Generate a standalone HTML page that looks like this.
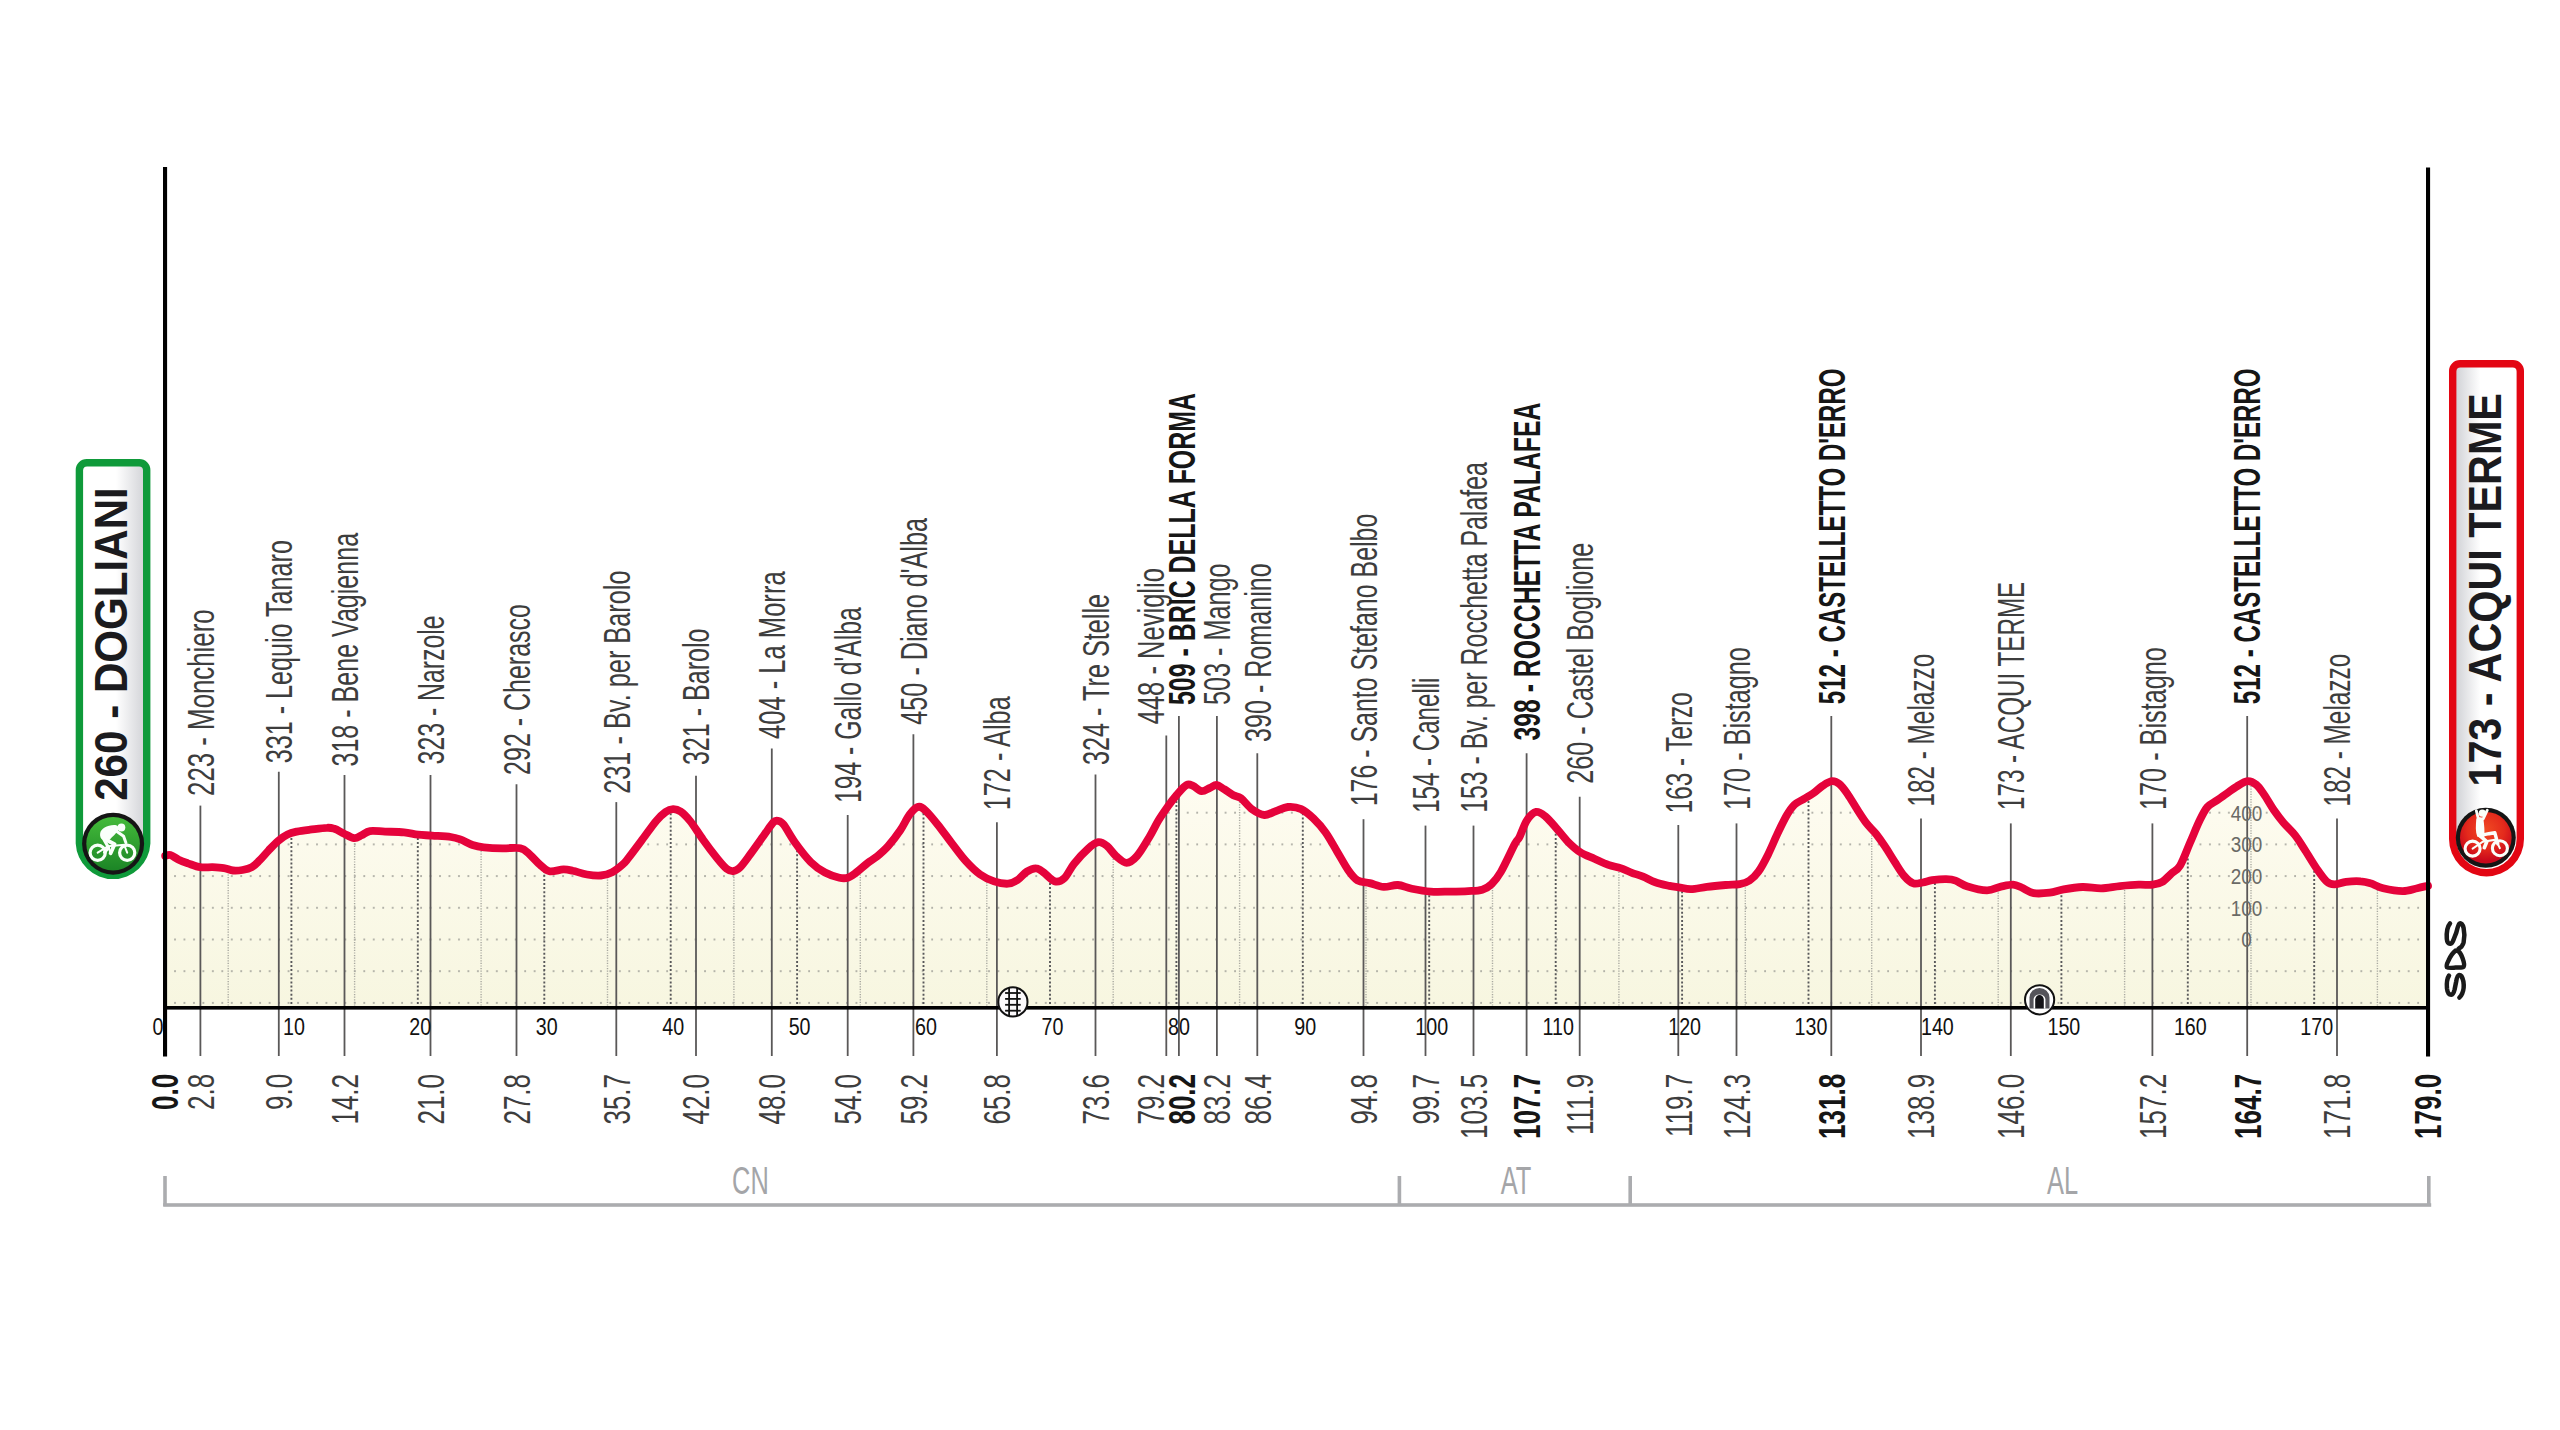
<!DOCTYPE html><html><head><meta charset="utf-8"><style>html,body{margin:0;padding:0;background:#fff;width:2560px;height:1430px;overflow:hidden}svg{display:block}text{font-family:"Liberation Sans",sans-serif}</style></head><body>
<svg width="2560" height="1430" viewBox="0 0 2560 1430">
<defs>
<linearGradient id="fillg" x1="0" y1="780" x2="0" y2="1007" gradientUnits="userSpaceOnUse"><stop offset="0" stop-color="#fefcf1"/><stop offset="1" stop-color="#f7f6e0"/></linearGradient>
<clipPath id="fc"><path d="M165.2,855.9 C166.0,855.8 168.1,854.4 170.3,855.0 C172.6,855.6 175.7,858.3 178.7,859.7 C181.7,861.1 184.5,862.1 188.1,863.4 C191.7,864.6 196.2,866.6 200.3,867.2 C204.4,867.8 208.6,867.1 212.5,867.2 C216.4,867.4 220.3,867.6 223.7,868.1 C227.1,868.6 230.0,870.2 233.1,870.5 C236.2,870.8 239.4,870.5 242.5,870.0 C245.6,869.5 249.1,868.8 251.9,867.2 C254.7,865.6 256.6,863.4 259.4,860.6 C262.2,857.8 265.6,853.6 268.7,850.3 C271.8,847.0 275.0,843.5 278.1,840.9 C281.2,838.2 284.4,835.9 287.5,834.4 C290.6,832.9 293.1,832.4 296.9,831.6 C300.6,830.8 305.0,830.3 310.0,829.7 C315.0,829.1 322.8,827.9 326.9,827.8 C331.0,827.6 331.6,827.9 334.4,828.8 C337.2,829.7 340.4,831.8 343.7,833.4 C347.0,835.0 351.1,837.8 354.1,838.1 C357.1,838.4 359.0,836.5 361.6,835.3 C364.2,834.1 366.1,831.7 370.0,831.1 C373.9,830.5 379.3,831.4 385.0,831.6 C390.7,831.8 398.6,831.8 404.1,832.3 C409.6,832.8 413.4,834.2 418.1,834.7 C422.8,835.2 426.7,835.2 432.2,835.6 C437.7,836.0 446.2,836.4 450.9,837.0 C455.6,837.6 456.7,838.1 460.3,839.4 C463.9,840.7 468.6,843.7 472.5,845.0 C476.4,846.3 478.7,846.8 483.7,847.3 C488.7,847.8 497.0,848.2 502.5,848.3 C508.0,848.4 513.2,847.6 516.6,847.8 C520.0,847.9 520.8,848.0 523.1,849.2 C525.4,850.5 527.8,852.7 530.6,855.3 C533.4,857.9 536.9,862.1 540.0,864.7 C543.1,867.4 545.5,870.4 549.4,871.2 C553.3,872.0 559.5,869.5 563.4,869.4 C567.3,869.3 568.9,869.9 572.8,870.8 C576.7,871.6 582.2,873.7 586.9,874.5 C591.6,875.3 596.7,875.9 600.9,875.5 C605.1,875.1 608.6,874.0 612.2,872.2 C615.8,870.4 619.9,867.0 622.5,864.7 C625.1,862.4 624.8,862.6 628.1,858.4 C631.4,854.2 637.5,846.0 642.2,839.7 C646.9,833.5 652.3,825.5 656.2,820.9 C660.1,816.3 662.8,814.0 665.6,812.0 C668.4,810.0 670.6,809.3 673.1,809.2 C675.6,809.1 677.8,809.7 680.6,811.6 C683.4,813.5 686.2,816.2 690.0,820.9 C693.8,825.6 698.6,833.5 703.1,839.7 C707.6,846.0 713.3,853.5 717.2,858.4 C721.1,863.2 724.0,866.7 726.6,868.8 C729.2,870.9 730.9,871.3 733.1,871.1 C735.3,870.9 736.9,870.5 739.7,867.8 C742.5,865.1 745.9,860.2 750.0,854.7 C754.1,849.2 760.2,840.4 764.1,835.0 C768.0,829.6 771.1,824.6 773.4,822.3 C775.7,819.9 776.4,820.5 778.1,820.9 C779.8,821.3 780.9,821.1 783.7,824.7 C786.5,828.3 790.5,836.2 795.0,842.5 C799.5,848.8 805.9,857.2 810.9,862.2 C815.9,867.2 820.2,869.9 825.0,872.5 C829.8,875.1 835.6,876.8 839.4,877.7 C843.2,878.6 845.0,878.6 847.8,877.7 C850.6,876.8 852.9,874.9 856.2,872.5 C859.5,870.1 864.0,865.8 867.5,863.1 C871.0,860.5 873.5,859.4 876.9,856.6 C880.3,853.8 884.2,850.6 888.1,846.2 C892.0,841.8 896.7,835.6 900.3,830.3 C903.9,825.0 906.7,818.3 909.7,814.4 C912.7,810.5 915.5,807.5 918.1,806.9 C920.8,806.3 922.3,807.6 925.6,810.6 C928.9,813.6 933.4,819.2 937.8,824.7 C942.2,830.2 947.2,837.3 951.9,843.4 C956.6,849.5 961.2,856.0 965.9,861.2 C970.6,866.4 975.3,871.0 980.0,874.4 C984.7,877.8 989.4,879.8 994.1,881.4 C998.8,883.0 1004.2,883.9 1008.1,883.7 C1012.0,883.5 1014.4,882.0 1017.5,880.0 C1020.6,878.0 1023.8,873.6 1026.9,871.6 C1030.0,869.6 1033.4,868.1 1036.2,868.3 C1039.0,868.4 1040.6,870.3 1043.7,872.5 C1046.8,874.7 1051.5,880.5 1055.0,881.4 C1058.5,882.3 1061.2,881.0 1064.4,878.1 C1067.6,875.2 1070.1,868.6 1074.1,863.7 C1078.0,858.8 1084.0,852.3 1088.1,848.7 C1092.1,845.1 1095.3,842.7 1098.4,842.2 C1101.5,841.7 1103.9,843.6 1106.9,845.9 C1109.9,848.2 1112.9,853.4 1116.2,856.2 C1119.5,859.0 1123.1,862.8 1126.6,862.8 C1130.0,862.8 1133.2,860.4 1136.9,856.2 C1140.7,852.0 1145.5,843.4 1149.1,837.5 C1152.7,831.6 1155.3,825.8 1158.4,820.6 C1161.5,815.5 1164.7,811.0 1167.8,806.6 C1170.9,802.2 1174.1,798.0 1177.2,794.4 C1180.3,790.8 1183.9,786.4 1186.6,785.0 C1189.2,783.6 1190.6,784.9 1193.1,785.9 C1195.6,786.9 1198.8,790.8 1201.6,791.1 C1204.4,791.4 1207.5,788.8 1210.0,787.8 C1212.5,786.8 1214.2,784.8 1216.6,785.0 C1218.9,785.2 1221.3,787.5 1224.1,789.2 C1226.9,790.9 1230.6,793.8 1233.4,795.3 C1236.2,796.8 1237.8,795.8 1240.9,798.1 C1244.0,800.5 1248.3,806.6 1252.2,809.4 C1256.1,812.2 1260.5,814.7 1264.4,815.0 C1268.3,815.3 1271.7,812.5 1275.6,811.2 C1279.5,809.9 1283.5,807.4 1287.8,807.0 C1292.1,806.6 1296.9,807.2 1301.2,809.1 C1305.5,811.0 1309.3,814.5 1313.4,818.4 C1317.5,822.3 1321.7,827.0 1325.6,832.5 C1329.5,838.0 1333.2,845.0 1336.9,851.2 C1340.7,857.5 1344.7,865.1 1348.1,870.0 C1351.5,874.9 1353.9,878.1 1357.5,880.3 C1361.1,882.5 1365.3,882.0 1369.7,883.1 C1374.1,884.2 1379.0,886.6 1383.7,886.9 C1388.4,887.2 1393.1,884.7 1397.8,885.0 C1402.5,885.3 1406.4,887.6 1411.9,888.7 C1417.4,889.8 1424.3,891.1 1430.6,891.6 C1436.8,892.1 1443.2,891.7 1449.4,891.6 C1455.7,891.5 1462.6,891.4 1468.1,891.1 C1473.6,890.8 1478.3,890.9 1482.2,889.7 C1486.1,888.5 1488.5,887.1 1491.6,884.1 C1494.7,881.1 1497.0,878.6 1500.9,871.9 C1504.8,865.2 1511.9,849.5 1515.0,843.7 C1518.1,837.9 1517.4,841.1 1519.4,837.2 C1521.4,833.3 1524.1,824.5 1526.9,820.3 C1529.7,816.1 1533.1,812.5 1536.2,811.9 C1539.3,811.3 1542.1,813.8 1545.6,816.6 C1549.0,819.4 1553.2,824.6 1556.9,828.8 C1560.7,833.0 1564.2,838.0 1568.1,841.9 C1572.0,845.8 1575.9,849.4 1580.3,852.2 C1584.7,855.0 1589.7,856.6 1594.4,858.7 C1599.1,860.8 1604.0,863.2 1608.4,864.8 C1612.8,866.4 1616.7,866.8 1620.6,868.1 C1624.5,869.4 1628.2,871.4 1631.9,872.8 C1635.7,874.2 1639.2,875.0 1643.1,876.6 C1647.0,878.2 1650.9,880.7 1655.3,882.2 C1659.7,883.8 1665.5,885.0 1669.4,885.9 C1673.3,886.8 1675.1,886.8 1678.7,887.3 C1682.3,887.8 1686.2,889.3 1690.9,889.2 C1695.6,889.1 1701.1,887.6 1706.9,886.9 C1712.7,886.2 1720.1,885.5 1725.6,885.0 C1731.1,884.5 1735.7,884.8 1739.7,884.1 C1743.7,883.4 1746.2,882.8 1749.4,880.6 C1752.6,878.5 1755.6,875.6 1758.7,871.2 C1761.8,866.8 1765.0,860.6 1768.1,854.4 C1771.2,848.1 1774.4,840.3 1777.5,833.7 C1780.6,827.1 1784.1,819.8 1786.9,815.0 C1789.7,810.2 1791.6,807.4 1794.4,804.7 C1797.2,802.1 1800.6,801.0 1803.7,799.1 C1806.8,797.2 1810.0,795.6 1813.1,793.4 C1816.2,791.2 1819.4,787.9 1822.5,785.9 C1825.6,783.9 1829.1,781.5 1831.9,781.2 C1834.7,780.9 1836.8,781.9 1839.4,784.1 C1842.1,786.3 1844.8,790.2 1847.8,794.4 C1850.8,798.6 1854.1,804.6 1857.2,809.4 C1860.3,814.2 1863.5,819.3 1866.6,823.4 C1869.7,827.5 1872.8,829.8 1875.9,833.7 C1879.0,837.6 1882.2,842.2 1885.3,846.9 C1888.4,851.6 1891.6,857.1 1894.7,861.9 C1897.8,866.7 1901.0,872.3 1904.1,875.9 C1907.2,879.5 1910.3,882.3 1913.4,883.4 C1916.5,884.5 1919.7,883.0 1922.8,882.5 C1925.9,882.0 1928.3,880.8 1932.2,880.2 C1936.1,879.7 1942.3,879.1 1946.2,879.2 C1950.1,879.3 1952.1,879.4 1955.6,880.6 C1959.0,881.8 1961.7,884.6 1966.9,886.2 C1972.1,887.8 1981.2,890.2 1986.9,890.3 C1992.6,890.4 1996.5,887.5 2000.9,886.6 C2005.3,885.7 2009.6,884.6 2013.1,884.7 C2016.5,884.9 2018.2,886.1 2021.6,887.5 C2025.0,888.9 2029.0,892.2 2033.7,893.1 C2038.4,894.0 2044.7,893.3 2049.7,892.7 C2054.7,892.1 2058.2,890.4 2063.7,889.4 C2069.2,888.4 2076.2,887.2 2082.5,887.0 C2088.8,886.8 2094.9,888.5 2101.2,888.4 C2107.4,888.2 2113.8,886.7 2120.0,886.1 C2126.2,885.5 2133.2,884.9 2138.7,884.7 C2144.2,884.5 2148.9,885.2 2152.8,884.7 C2156.7,884.2 2159.1,883.8 2162.2,881.9 C2165.3,880.0 2168.6,876.1 2171.6,873.4 C2174.6,870.7 2177.0,870.7 2180.0,865.7 C2183.0,860.7 2186.6,850.7 2189.8,843.2 C2193.1,835.7 2196.6,826.8 2199.5,820.8 C2202.4,814.8 2204.4,810.5 2207.3,807.1 C2210.2,803.7 2213.8,802.6 2217.1,800.3 C2220.4,798.0 2223.7,795.7 2226.9,793.4 C2230.2,791.1 2233.2,788.6 2236.6,786.6 C2240.0,784.6 2244.1,781.5 2247.4,781.2 C2250.7,780.9 2253.4,782.4 2256.2,784.6 C2259.0,786.8 2261.1,790.2 2264.0,794.4 C2266.9,798.6 2270.6,805.3 2273.8,810.0 C2277.1,814.7 2279.9,818.5 2283.5,822.7 C2287.1,826.9 2291.6,830.8 2295.2,835.4 C2298.8,840.0 2301.4,844.6 2305.0,850.1 C2308.6,855.6 2313.1,863.4 2316.7,868.6 C2320.3,873.8 2323.6,878.7 2326.5,881.3 C2329.4,883.9 2331.1,884.2 2334.3,884.3 C2337.6,884.4 2341.6,882.3 2346.0,881.8 C2350.4,881.3 2356.6,881.0 2360.7,881.3 C2364.8,881.5 2366.7,882.1 2370.4,883.3 C2374.1,884.4 2377.7,886.9 2383.1,888.2 C2388.5,889.5 2396.9,891.1 2402.6,891.1 C2408.3,891.1 2413.1,889.1 2417.3,888.2 C2421.5,887.3 2426.2,886.1 2428.0,885.7 L2428.0,1007.8 L165.0,1007.8 Z"/></clipPath>
<pattern id="hd" x="0" y="0" width="9.4648" height="31.7" patternUnits="userSpaceOnUse" patternTransform="translate(174,780)"><circle cx="1" cy="1" r="1.0" fill="#a2a29a"/></pattern>
<linearGradient id="gbadge" x1="0" y1="0" x2="1" y2="0"><stop offset="0" stop-color="#ffffff"/><stop offset="0.55" stop-color="#ffffff"/><stop offset="1" stop-color="#d5d6da"/></linearGradient>
<linearGradient id="rbadge" x1="0" y1="0" x2="1" y2="0"><stop offset="0" stop-color="#d2d3d7"/><stop offset="0.4" stop-color="#ffffff"/><stop offset="1" stop-color="#ffffff"/></linearGradient>
<linearGradient id="gcirc" x1="0" y1="0" x2="0" y2="1"><stop offset="0" stop-color="#44bb3a"/><stop offset="1" stop-color="#1c8526"/></linearGradient>
<radialGradient id="rcirc" cx="0.5" cy="0.35" r="0.6"><stop offset="0" stop-color="#f04a22"/><stop offset="0.6" stop-color="#e42a1c"/><stop offset="1" stop-color="#c8081c"/></radialGradient>
</defs>
<path d="M165.2,855.9 C166.0,855.8 168.1,854.4 170.3,855.0 C172.6,855.6 175.7,858.3 178.7,859.7 C181.7,861.1 184.5,862.1 188.1,863.4 C191.7,864.6 196.2,866.6 200.3,867.2 C204.4,867.8 208.6,867.1 212.5,867.2 C216.4,867.4 220.3,867.6 223.7,868.1 C227.1,868.6 230.0,870.2 233.1,870.5 C236.2,870.8 239.4,870.5 242.5,870.0 C245.6,869.5 249.1,868.8 251.9,867.2 C254.7,865.6 256.6,863.4 259.4,860.6 C262.2,857.8 265.6,853.6 268.7,850.3 C271.8,847.0 275.0,843.5 278.1,840.9 C281.2,838.2 284.4,835.9 287.5,834.4 C290.6,832.9 293.1,832.4 296.9,831.6 C300.6,830.8 305.0,830.3 310.0,829.7 C315.0,829.1 322.8,827.9 326.9,827.8 C331.0,827.6 331.6,827.9 334.4,828.8 C337.2,829.7 340.4,831.8 343.7,833.4 C347.0,835.0 351.1,837.8 354.1,838.1 C357.1,838.4 359.0,836.5 361.6,835.3 C364.2,834.1 366.1,831.7 370.0,831.1 C373.9,830.5 379.3,831.4 385.0,831.6 C390.7,831.8 398.6,831.8 404.1,832.3 C409.6,832.8 413.4,834.2 418.1,834.7 C422.8,835.2 426.7,835.2 432.2,835.6 C437.7,836.0 446.2,836.4 450.9,837.0 C455.6,837.6 456.7,838.1 460.3,839.4 C463.9,840.7 468.6,843.7 472.5,845.0 C476.4,846.3 478.7,846.8 483.7,847.3 C488.7,847.8 497.0,848.2 502.5,848.3 C508.0,848.4 513.2,847.6 516.6,847.8 C520.0,847.9 520.8,848.0 523.1,849.2 C525.4,850.5 527.8,852.7 530.6,855.3 C533.4,857.9 536.9,862.1 540.0,864.7 C543.1,867.4 545.5,870.4 549.4,871.2 C553.3,872.0 559.5,869.5 563.4,869.4 C567.3,869.3 568.9,869.9 572.8,870.8 C576.7,871.6 582.2,873.7 586.9,874.5 C591.6,875.3 596.7,875.9 600.9,875.5 C605.1,875.1 608.6,874.0 612.2,872.2 C615.8,870.4 619.9,867.0 622.5,864.7 C625.1,862.4 624.8,862.6 628.1,858.4 C631.4,854.2 637.5,846.0 642.2,839.7 C646.9,833.5 652.3,825.5 656.2,820.9 C660.1,816.3 662.8,814.0 665.6,812.0 C668.4,810.0 670.6,809.3 673.1,809.2 C675.6,809.1 677.8,809.7 680.6,811.6 C683.4,813.5 686.2,816.2 690.0,820.9 C693.8,825.6 698.6,833.5 703.1,839.7 C707.6,846.0 713.3,853.5 717.2,858.4 C721.1,863.2 724.0,866.7 726.6,868.8 C729.2,870.9 730.9,871.3 733.1,871.1 C735.3,870.9 736.9,870.5 739.7,867.8 C742.5,865.1 745.9,860.2 750.0,854.7 C754.1,849.2 760.2,840.4 764.1,835.0 C768.0,829.6 771.1,824.6 773.4,822.3 C775.7,819.9 776.4,820.5 778.1,820.9 C779.8,821.3 780.9,821.1 783.7,824.7 C786.5,828.3 790.5,836.2 795.0,842.5 C799.5,848.8 805.9,857.2 810.9,862.2 C815.9,867.2 820.2,869.9 825.0,872.5 C829.8,875.1 835.6,876.8 839.4,877.7 C843.2,878.6 845.0,878.6 847.8,877.7 C850.6,876.8 852.9,874.9 856.2,872.5 C859.5,870.1 864.0,865.8 867.5,863.1 C871.0,860.5 873.5,859.4 876.9,856.6 C880.3,853.8 884.2,850.6 888.1,846.2 C892.0,841.8 896.7,835.6 900.3,830.3 C903.9,825.0 906.7,818.3 909.7,814.4 C912.7,810.5 915.5,807.5 918.1,806.9 C920.8,806.3 922.3,807.6 925.6,810.6 C928.9,813.6 933.4,819.2 937.8,824.7 C942.2,830.2 947.2,837.3 951.9,843.4 C956.6,849.5 961.2,856.0 965.9,861.2 C970.6,866.4 975.3,871.0 980.0,874.4 C984.7,877.8 989.4,879.8 994.1,881.4 C998.8,883.0 1004.2,883.9 1008.1,883.7 C1012.0,883.5 1014.4,882.0 1017.5,880.0 C1020.6,878.0 1023.8,873.6 1026.9,871.6 C1030.0,869.6 1033.4,868.1 1036.2,868.3 C1039.0,868.4 1040.6,870.3 1043.7,872.5 C1046.8,874.7 1051.5,880.5 1055.0,881.4 C1058.5,882.3 1061.2,881.0 1064.4,878.1 C1067.6,875.2 1070.1,868.6 1074.1,863.7 C1078.0,858.8 1084.0,852.3 1088.1,848.7 C1092.1,845.1 1095.3,842.7 1098.4,842.2 C1101.5,841.7 1103.9,843.6 1106.9,845.9 C1109.9,848.2 1112.9,853.4 1116.2,856.2 C1119.5,859.0 1123.1,862.8 1126.6,862.8 C1130.0,862.8 1133.2,860.4 1136.9,856.2 C1140.7,852.0 1145.5,843.4 1149.1,837.5 C1152.7,831.6 1155.3,825.8 1158.4,820.6 C1161.5,815.5 1164.7,811.0 1167.8,806.6 C1170.9,802.2 1174.1,798.0 1177.2,794.4 C1180.3,790.8 1183.9,786.4 1186.6,785.0 C1189.2,783.6 1190.6,784.9 1193.1,785.9 C1195.6,786.9 1198.8,790.8 1201.6,791.1 C1204.4,791.4 1207.5,788.8 1210.0,787.8 C1212.5,786.8 1214.2,784.8 1216.6,785.0 C1218.9,785.2 1221.3,787.5 1224.1,789.2 C1226.9,790.9 1230.6,793.8 1233.4,795.3 C1236.2,796.8 1237.8,795.8 1240.9,798.1 C1244.0,800.5 1248.3,806.6 1252.2,809.4 C1256.1,812.2 1260.5,814.7 1264.4,815.0 C1268.3,815.3 1271.7,812.5 1275.6,811.2 C1279.5,809.9 1283.5,807.4 1287.8,807.0 C1292.1,806.6 1296.9,807.2 1301.2,809.1 C1305.5,811.0 1309.3,814.5 1313.4,818.4 C1317.5,822.3 1321.7,827.0 1325.6,832.5 C1329.5,838.0 1333.2,845.0 1336.9,851.2 C1340.7,857.5 1344.7,865.1 1348.1,870.0 C1351.5,874.9 1353.9,878.1 1357.5,880.3 C1361.1,882.5 1365.3,882.0 1369.7,883.1 C1374.1,884.2 1379.0,886.6 1383.7,886.9 C1388.4,887.2 1393.1,884.7 1397.8,885.0 C1402.5,885.3 1406.4,887.6 1411.9,888.7 C1417.4,889.8 1424.3,891.1 1430.6,891.6 C1436.8,892.1 1443.2,891.7 1449.4,891.6 C1455.7,891.5 1462.6,891.4 1468.1,891.1 C1473.6,890.8 1478.3,890.9 1482.2,889.7 C1486.1,888.5 1488.5,887.1 1491.6,884.1 C1494.7,881.1 1497.0,878.6 1500.9,871.9 C1504.8,865.2 1511.9,849.5 1515.0,843.7 C1518.1,837.9 1517.4,841.1 1519.4,837.2 C1521.4,833.3 1524.1,824.5 1526.9,820.3 C1529.7,816.1 1533.1,812.5 1536.2,811.9 C1539.3,811.3 1542.1,813.8 1545.6,816.6 C1549.0,819.4 1553.2,824.6 1556.9,828.8 C1560.7,833.0 1564.2,838.0 1568.1,841.9 C1572.0,845.8 1575.9,849.4 1580.3,852.2 C1584.7,855.0 1589.7,856.6 1594.4,858.7 C1599.1,860.8 1604.0,863.2 1608.4,864.8 C1612.8,866.4 1616.7,866.8 1620.6,868.1 C1624.5,869.4 1628.2,871.4 1631.9,872.8 C1635.7,874.2 1639.2,875.0 1643.1,876.6 C1647.0,878.2 1650.9,880.7 1655.3,882.2 C1659.7,883.8 1665.5,885.0 1669.4,885.9 C1673.3,886.8 1675.1,886.8 1678.7,887.3 C1682.3,887.8 1686.2,889.3 1690.9,889.2 C1695.6,889.1 1701.1,887.6 1706.9,886.9 C1712.7,886.2 1720.1,885.5 1725.6,885.0 C1731.1,884.5 1735.7,884.8 1739.7,884.1 C1743.7,883.4 1746.2,882.8 1749.4,880.6 C1752.6,878.5 1755.6,875.6 1758.7,871.2 C1761.8,866.8 1765.0,860.6 1768.1,854.4 C1771.2,848.1 1774.4,840.3 1777.5,833.7 C1780.6,827.1 1784.1,819.8 1786.9,815.0 C1789.7,810.2 1791.6,807.4 1794.4,804.7 C1797.2,802.1 1800.6,801.0 1803.7,799.1 C1806.8,797.2 1810.0,795.6 1813.1,793.4 C1816.2,791.2 1819.4,787.9 1822.5,785.9 C1825.6,783.9 1829.1,781.5 1831.9,781.2 C1834.7,780.9 1836.8,781.9 1839.4,784.1 C1842.1,786.3 1844.8,790.2 1847.8,794.4 C1850.8,798.6 1854.1,804.6 1857.2,809.4 C1860.3,814.2 1863.5,819.3 1866.6,823.4 C1869.7,827.5 1872.8,829.8 1875.9,833.7 C1879.0,837.6 1882.2,842.2 1885.3,846.9 C1888.4,851.6 1891.6,857.1 1894.7,861.9 C1897.8,866.7 1901.0,872.3 1904.1,875.9 C1907.2,879.5 1910.3,882.3 1913.4,883.4 C1916.5,884.5 1919.7,883.0 1922.8,882.5 C1925.9,882.0 1928.3,880.8 1932.2,880.2 C1936.1,879.7 1942.3,879.1 1946.2,879.2 C1950.1,879.3 1952.1,879.4 1955.6,880.6 C1959.0,881.8 1961.7,884.6 1966.9,886.2 C1972.1,887.8 1981.2,890.2 1986.9,890.3 C1992.6,890.4 1996.5,887.5 2000.9,886.6 C2005.3,885.7 2009.6,884.6 2013.1,884.7 C2016.5,884.9 2018.2,886.1 2021.6,887.5 C2025.0,888.9 2029.0,892.2 2033.7,893.1 C2038.4,894.0 2044.7,893.3 2049.7,892.7 C2054.7,892.1 2058.2,890.4 2063.7,889.4 C2069.2,888.4 2076.2,887.2 2082.5,887.0 C2088.8,886.8 2094.9,888.5 2101.2,888.4 C2107.4,888.2 2113.8,886.7 2120.0,886.1 C2126.2,885.5 2133.2,884.9 2138.7,884.7 C2144.2,884.5 2148.9,885.2 2152.8,884.7 C2156.7,884.2 2159.1,883.8 2162.2,881.9 C2165.3,880.0 2168.6,876.1 2171.6,873.4 C2174.6,870.7 2177.0,870.7 2180.0,865.7 C2183.0,860.7 2186.6,850.7 2189.8,843.2 C2193.1,835.7 2196.6,826.8 2199.5,820.8 C2202.4,814.8 2204.4,810.5 2207.3,807.1 C2210.2,803.7 2213.8,802.6 2217.1,800.3 C2220.4,798.0 2223.7,795.7 2226.9,793.4 C2230.2,791.1 2233.2,788.6 2236.6,786.6 C2240.0,784.6 2244.1,781.5 2247.4,781.2 C2250.7,780.9 2253.4,782.4 2256.2,784.6 C2259.0,786.8 2261.1,790.2 2264.0,794.4 C2266.9,798.6 2270.6,805.3 2273.8,810.0 C2277.1,814.7 2279.9,818.5 2283.5,822.7 C2287.1,826.9 2291.6,830.8 2295.2,835.4 C2298.8,840.0 2301.4,844.6 2305.0,850.1 C2308.6,855.6 2313.1,863.4 2316.7,868.6 C2320.3,873.8 2323.6,878.7 2326.5,881.3 C2329.4,883.9 2331.1,884.2 2334.3,884.3 C2337.6,884.4 2341.6,882.3 2346.0,881.8 C2350.4,881.3 2356.6,881.0 2360.7,881.3 C2364.8,881.5 2366.7,882.1 2370.4,883.3 C2374.1,884.4 2377.7,886.9 2383.1,888.2 C2388.5,889.5 2396.9,891.1 2402.6,891.1 C2408.3,891.1 2413.1,889.1 2417.3,888.2 C2421.5,887.3 2426.2,886.1 2428.0,885.7 L2428.0,1007.8 L165.0,1007.8 Z" fill="url(#fillg)"/>
<g clip-path="url(#fc)">
<rect x="165.0" y="760" width="2263.0" height="248" fill="url(#hd)"/>
<line x1="228.2" y1="760" x2="228.2" y2="1006" stroke="#a8a8a0" stroke-width="1.4" stroke-dasharray="1.2 1.4"/>
<line x1="291.4" y1="760" x2="291.4" y2="1006" stroke="#58585a" stroke-width="1.9" stroke-dasharray="2 2.1"/>
<line x1="354.6" y1="760" x2="354.6" y2="1006" stroke="#a8a8a0" stroke-width="1.4" stroke-dasharray="1.2 1.4"/>
<line x1="417.8" y1="760" x2="417.8" y2="1006" stroke="#58585a" stroke-width="1.9" stroke-dasharray="2 2.1"/>
<line x1="481.1" y1="760" x2="481.1" y2="1006" stroke="#a8a8a0" stroke-width="1.4" stroke-dasharray="1.2 1.4"/>
<line x1="544.3" y1="760" x2="544.3" y2="1006" stroke="#58585a" stroke-width="1.9" stroke-dasharray="2 2.1"/>
<line x1="607.5" y1="760" x2="607.5" y2="1006" stroke="#a8a8a0" stroke-width="1.4" stroke-dasharray="1.2 1.4"/>
<line x1="670.7" y1="760" x2="670.7" y2="1006" stroke="#58585a" stroke-width="1.9" stroke-dasharray="2 2.1"/>
<line x1="733.9" y1="760" x2="733.9" y2="1006" stroke="#a8a8a0" stroke-width="1.4" stroke-dasharray="1.2 1.4"/>
<line x1="797.1" y1="760" x2="797.1" y2="1006" stroke="#58585a" stroke-width="1.9" stroke-dasharray="2 2.1"/>
<line x1="860.3" y1="760" x2="860.3" y2="1006" stroke="#a8a8a0" stroke-width="1.4" stroke-dasharray="1.2 1.4"/>
<line x1="923.5" y1="760" x2="923.5" y2="1006" stroke="#58585a" stroke-width="1.9" stroke-dasharray="2 2.1"/>
<line x1="986.8" y1="760" x2="986.8" y2="1006" stroke="#a8a8a0" stroke-width="1.4" stroke-dasharray="1.2 1.4"/>
<line x1="1050.0" y1="760" x2="1050.0" y2="1006" stroke="#58585a" stroke-width="1.9" stroke-dasharray="2 2.1"/>
<line x1="1113.2" y1="760" x2="1113.2" y2="1006" stroke="#a8a8a0" stroke-width="1.4" stroke-dasharray="1.2 1.4"/>
<line x1="1176.4" y1="760" x2="1176.4" y2="1006" stroke="#58585a" stroke-width="1.9" stroke-dasharray="2 2.1"/>
<line x1="1239.6" y1="760" x2="1239.6" y2="1006" stroke="#a8a8a0" stroke-width="1.4" stroke-dasharray="1.2 1.4"/>
<line x1="1302.8" y1="760" x2="1302.8" y2="1006" stroke="#58585a" stroke-width="1.9" stroke-dasharray="2 2.1"/>
<line x1="1366.0" y1="760" x2="1366.0" y2="1006" stroke="#a8a8a0" stroke-width="1.4" stroke-dasharray="1.2 1.4"/>
<line x1="1429.2" y1="760" x2="1429.2" y2="1006" stroke="#58585a" stroke-width="1.9" stroke-dasharray="2 2.1"/>
<line x1="1492.5" y1="760" x2="1492.5" y2="1006" stroke="#a8a8a0" stroke-width="1.4" stroke-dasharray="1.2 1.4"/>
<line x1="1555.7" y1="760" x2="1555.7" y2="1006" stroke="#58585a" stroke-width="1.9" stroke-dasharray="2 2.1"/>
<line x1="1618.9" y1="760" x2="1618.9" y2="1006" stroke="#a8a8a0" stroke-width="1.4" stroke-dasharray="1.2 1.4"/>
<line x1="1682.1" y1="760" x2="1682.1" y2="1006" stroke="#58585a" stroke-width="1.9" stroke-dasharray="2 2.1"/>
<line x1="1745.3" y1="760" x2="1745.3" y2="1006" stroke="#a8a8a0" stroke-width="1.4" stroke-dasharray="1.2 1.4"/>
<line x1="1808.5" y1="760" x2="1808.5" y2="1006" stroke="#58585a" stroke-width="1.9" stroke-dasharray="2 2.1"/>
<line x1="1871.7" y1="760" x2="1871.7" y2="1006" stroke="#a8a8a0" stroke-width="1.4" stroke-dasharray="1.2 1.4"/>
<line x1="1934.9" y1="760" x2="1934.9" y2="1006" stroke="#58585a" stroke-width="1.9" stroke-dasharray="2 2.1"/>
<line x1="1998.2" y1="760" x2="1998.2" y2="1006" stroke="#a8a8a0" stroke-width="1.4" stroke-dasharray="1.2 1.4"/>
<line x1="2061.4" y1="760" x2="2061.4" y2="1006" stroke="#58585a" stroke-width="1.9" stroke-dasharray="2 2.1"/>
<line x1="2124.6" y1="760" x2="2124.6" y2="1006" stroke="#a8a8a0" stroke-width="1.4" stroke-dasharray="1.2 1.4"/>
<line x1="2187.8" y1="760" x2="2187.8" y2="1006" stroke="#58585a" stroke-width="1.9" stroke-dasharray="2 2.1"/>
<line x1="2251.0" y1="760" x2="2251.0" y2="1006" stroke="#a8a8a0" stroke-width="1.4" stroke-dasharray="1.2 1.4"/>
<line x1="2314.2" y1="760" x2="2314.2" y2="1006" stroke="#58585a" stroke-width="1.9" stroke-dasharray="2 2.1"/>
<line x1="2377.4" y1="760" x2="2377.4" y2="1006" stroke="#a8a8a0" stroke-width="1.4" stroke-dasharray="1.2 1.4"/>
</g>
<line x1="200.4" y1="805.6" x2="200.4" y2="1056" stroke="#5a5858" stroke-width="1.8"/>
<line x1="278.8" y1="771.7" x2="278.8" y2="1056" stroke="#5a5858" stroke-width="1.8"/>
<line x1="344.5" y1="774.9" x2="344.5" y2="1056" stroke="#5a5858" stroke-width="1.8"/>
<line x1="430.5" y1="774.9" x2="430.5" y2="1056" stroke="#5a5858" stroke-width="1.8"/>
<line x1="516.5" y1="784.3" x2="516.5" y2="1056" stroke="#5a5858" stroke-width="1.8"/>
<line x1="616.3" y1="802.1" x2="616.3" y2="1056" stroke="#5a5858" stroke-width="1.8"/>
<line x1="696.0" y1="775.8" x2="696.0" y2="1056" stroke="#5a5858" stroke-width="1.8"/>
<line x1="771.8" y1="748.5" x2="771.8" y2="1056" stroke="#5a5858" stroke-width="1.8"/>
<line x1="847.7" y1="815.0" x2="847.7" y2="1056" stroke="#5a5858" stroke-width="1.8"/>
<line x1="913.4" y1="734.2" x2="913.4" y2="1056" stroke="#5a5858" stroke-width="1.8"/>
<line x1="996.9" y1="822.2" x2="996.9" y2="1056" stroke="#5a5858" stroke-width="1.8"/>
<line x1="1095.5" y1="774.6" x2="1095.5" y2="1056" stroke="#5a5858" stroke-width="1.8"/>
<line x1="1166.3" y1="735.5" x2="1166.3" y2="1056" stroke="#5a5858" stroke-width="1.8"/>
<line x1="1178.9" y1="716.0" x2="1178.9" y2="1056" stroke="#5a5858" stroke-width="1.8"/>
<line x1="1216.9" y1="716.0" x2="1216.9" y2="1056" stroke="#5a5858" stroke-width="1.8"/>
<line x1="1257.3" y1="753.2" x2="1257.3" y2="1056" stroke="#5a5858" stroke-width="1.8"/>
<line x1="1363.5" y1="819.2" x2="1363.5" y2="1056" stroke="#5a5858" stroke-width="1.8"/>
<line x1="1425.5" y1="825.6" x2="1425.5" y2="1056" stroke="#5a5858" stroke-width="1.8"/>
<line x1="1473.5" y1="825.6" x2="1473.5" y2="1056" stroke="#5a5858" stroke-width="1.8"/>
<line x1="1526.6" y1="753.2" x2="1526.6" y2="1056" stroke="#5a5858" stroke-width="1.8"/>
<line x1="1579.7" y1="796.7" x2="1579.7" y2="1056" stroke="#5a5858" stroke-width="1.8"/>
<line x1="1678.3" y1="825.0" x2="1678.3" y2="1056" stroke="#5a5858" stroke-width="1.8"/>
<line x1="1736.5" y1="823.4" x2="1736.5" y2="1056" stroke="#5a5858" stroke-width="1.8"/>
<line x1="1831.3" y1="716.0" x2="1831.3" y2="1056" stroke="#5a5858" stroke-width="1.8"/>
<line x1="1921.0" y1="818.4" x2="1921.0" y2="1056" stroke="#5a5858" stroke-width="1.8"/>
<line x1="2010.8" y1="823.4" x2="2010.8" y2="1056" stroke="#5a5858" stroke-width="1.8"/>
<line x1="2152.4" y1="823.4" x2="2152.4" y2="1056" stroke="#5a5858" stroke-width="1.8"/>
<line x1="2247.2" y1="716.0" x2="2247.2" y2="1056" stroke="#5a5858" stroke-width="1.8"/>
<line x1="2337.0" y1="818.4" x2="2337.0" y2="1056" stroke="#5a5858" stroke-width="1.8"/>
<path d="M165.2,855.9 C166.0,855.8 168.1,854.4 170.3,855.0 C172.6,855.6 175.7,858.3 178.7,859.7 C181.7,861.1 184.5,862.1 188.1,863.4 C191.7,864.6 196.2,866.6 200.3,867.2 C204.4,867.8 208.6,867.1 212.5,867.2 C216.4,867.4 220.3,867.6 223.7,868.1 C227.1,868.6 230.0,870.2 233.1,870.5 C236.2,870.8 239.4,870.5 242.5,870.0 C245.6,869.5 249.1,868.8 251.9,867.2 C254.7,865.6 256.6,863.4 259.4,860.6 C262.2,857.8 265.6,853.6 268.7,850.3 C271.8,847.0 275.0,843.5 278.1,840.9 C281.2,838.2 284.4,835.9 287.5,834.4 C290.6,832.9 293.1,832.4 296.9,831.6 C300.6,830.8 305.0,830.3 310.0,829.7 C315.0,829.1 322.8,827.9 326.9,827.8 C331.0,827.6 331.6,827.9 334.4,828.8 C337.2,829.7 340.4,831.8 343.7,833.4 C347.0,835.0 351.1,837.8 354.1,838.1 C357.1,838.4 359.0,836.5 361.6,835.3 C364.2,834.1 366.1,831.7 370.0,831.1 C373.9,830.5 379.3,831.4 385.0,831.6 C390.7,831.8 398.6,831.8 404.1,832.3 C409.6,832.8 413.4,834.2 418.1,834.7 C422.8,835.2 426.7,835.2 432.2,835.6 C437.7,836.0 446.2,836.4 450.9,837.0 C455.6,837.6 456.7,838.1 460.3,839.4 C463.9,840.7 468.6,843.7 472.5,845.0 C476.4,846.3 478.7,846.8 483.7,847.3 C488.7,847.8 497.0,848.2 502.5,848.3 C508.0,848.4 513.2,847.6 516.6,847.8 C520.0,847.9 520.8,848.0 523.1,849.2 C525.4,850.5 527.8,852.7 530.6,855.3 C533.4,857.9 536.9,862.1 540.0,864.7 C543.1,867.4 545.5,870.4 549.4,871.2 C553.3,872.0 559.5,869.5 563.4,869.4 C567.3,869.3 568.9,869.9 572.8,870.8 C576.7,871.6 582.2,873.7 586.9,874.5 C591.6,875.3 596.7,875.9 600.9,875.5 C605.1,875.1 608.6,874.0 612.2,872.2 C615.8,870.4 619.9,867.0 622.5,864.7 C625.1,862.4 624.8,862.6 628.1,858.4 C631.4,854.2 637.5,846.0 642.2,839.7 C646.9,833.5 652.3,825.5 656.2,820.9 C660.1,816.3 662.8,814.0 665.6,812.0 C668.4,810.0 670.6,809.3 673.1,809.2 C675.6,809.1 677.8,809.7 680.6,811.6 C683.4,813.5 686.2,816.2 690.0,820.9 C693.8,825.6 698.6,833.5 703.1,839.7 C707.6,846.0 713.3,853.5 717.2,858.4 C721.1,863.2 724.0,866.7 726.6,868.8 C729.2,870.9 730.9,871.3 733.1,871.1 C735.3,870.9 736.9,870.5 739.7,867.8 C742.5,865.1 745.9,860.2 750.0,854.7 C754.1,849.2 760.2,840.4 764.1,835.0 C768.0,829.6 771.1,824.6 773.4,822.3 C775.7,819.9 776.4,820.5 778.1,820.9 C779.8,821.3 780.9,821.1 783.7,824.7 C786.5,828.3 790.5,836.2 795.0,842.5 C799.5,848.8 805.9,857.2 810.9,862.2 C815.9,867.2 820.2,869.9 825.0,872.5 C829.8,875.1 835.6,876.8 839.4,877.7 C843.2,878.6 845.0,878.6 847.8,877.7 C850.6,876.8 852.9,874.9 856.2,872.5 C859.5,870.1 864.0,865.8 867.5,863.1 C871.0,860.5 873.5,859.4 876.9,856.6 C880.3,853.8 884.2,850.6 888.1,846.2 C892.0,841.8 896.7,835.6 900.3,830.3 C903.9,825.0 906.7,818.3 909.7,814.4 C912.7,810.5 915.5,807.5 918.1,806.9 C920.8,806.3 922.3,807.6 925.6,810.6 C928.9,813.6 933.4,819.2 937.8,824.7 C942.2,830.2 947.2,837.3 951.9,843.4 C956.6,849.5 961.2,856.0 965.9,861.2 C970.6,866.4 975.3,871.0 980.0,874.4 C984.7,877.8 989.4,879.8 994.1,881.4 C998.8,883.0 1004.2,883.9 1008.1,883.7 C1012.0,883.5 1014.4,882.0 1017.5,880.0 C1020.6,878.0 1023.8,873.6 1026.9,871.6 C1030.0,869.6 1033.4,868.1 1036.2,868.3 C1039.0,868.4 1040.6,870.3 1043.7,872.5 C1046.8,874.7 1051.5,880.5 1055.0,881.4 C1058.5,882.3 1061.2,881.0 1064.4,878.1 C1067.6,875.2 1070.1,868.6 1074.1,863.7 C1078.0,858.8 1084.0,852.3 1088.1,848.7 C1092.1,845.1 1095.3,842.7 1098.4,842.2 C1101.5,841.7 1103.9,843.6 1106.9,845.9 C1109.9,848.2 1112.9,853.4 1116.2,856.2 C1119.5,859.0 1123.1,862.8 1126.6,862.8 C1130.0,862.8 1133.2,860.4 1136.9,856.2 C1140.7,852.0 1145.5,843.4 1149.1,837.5 C1152.7,831.6 1155.3,825.8 1158.4,820.6 C1161.5,815.5 1164.7,811.0 1167.8,806.6 C1170.9,802.2 1174.1,798.0 1177.2,794.4 C1180.3,790.8 1183.9,786.4 1186.6,785.0 C1189.2,783.6 1190.6,784.9 1193.1,785.9 C1195.6,786.9 1198.8,790.8 1201.6,791.1 C1204.4,791.4 1207.5,788.8 1210.0,787.8 C1212.5,786.8 1214.2,784.8 1216.6,785.0 C1218.9,785.2 1221.3,787.5 1224.1,789.2 C1226.9,790.9 1230.6,793.8 1233.4,795.3 C1236.2,796.8 1237.8,795.8 1240.9,798.1 C1244.0,800.5 1248.3,806.6 1252.2,809.4 C1256.1,812.2 1260.5,814.7 1264.4,815.0 C1268.3,815.3 1271.7,812.5 1275.6,811.2 C1279.5,809.9 1283.5,807.4 1287.8,807.0 C1292.1,806.6 1296.9,807.2 1301.2,809.1 C1305.5,811.0 1309.3,814.5 1313.4,818.4 C1317.5,822.3 1321.7,827.0 1325.6,832.5 C1329.5,838.0 1333.2,845.0 1336.9,851.2 C1340.7,857.5 1344.7,865.1 1348.1,870.0 C1351.5,874.9 1353.9,878.1 1357.5,880.3 C1361.1,882.5 1365.3,882.0 1369.7,883.1 C1374.1,884.2 1379.0,886.6 1383.7,886.9 C1388.4,887.2 1393.1,884.7 1397.8,885.0 C1402.5,885.3 1406.4,887.6 1411.9,888.7 C1417.4,889.8 1424.3,891.1 1430.6,891.6 C1436.8,892.1 1443.2,891.7 1449.4,891.6 C1455.7,891.5 1462.6,891.4 1468.1,891.1 C1473.6,890.8 1478.3,890.9 1482.2,889.7 C1486.1,888.5 1488.5,887.1 1491.6,884.1 C1494.7,881.1 1497.0,878.6 1500.9,871.9 C1504.8,865.2 1511.9,849.5 1515.0,843.7 C1518.1,837.9 1517.4,841.1 1519.4,837.2 C1521.4,833.3 1524.1,824.5 1526.9,820.3 C1529.7,816.1 1533.1,812.5 1536.2,811.9 C1539.3,811.3 1542.1,813.8 1545.6,816.6 C1549.0,819.4 1553.2,824.6 1556.9,828.8 C1560.7,833.0 1564.2,838.0 1568.1,841.9 C1572.0,845.8 1575.9,849.4 1580.3,852.2 C1584.7,855.0 1589.7,856.6 1594.4,858.7 C1599.1,860.8 1604.0,863.2 1608.4,864.8 C1612.8,866.4 1616.7,866.8 1620.6,868.1 C1624.5,869.4 1628.2,871.4 1631.9,872.8 C1635.7,874.2 1639.2,875.0 1643.1,876.6 C1647.0,878.2 1650.9,880.7 1655.3,882.2 C1659.7,883.8 1665.5,885.0 1669.4,885.9 C1673.3,886.8 1675.1,886.8 1678.7,887.3 C1682.3,887.8 1686.2,889.3 1690.9,889.2 C1695.6,889.1 1701.1,887.6 1706.9,886.9 C1712.7,886.2 1720.1,885.5 1725.6,885.0 C1731.1,884.5 1735.7,884.8 1739.7,884.1 C1743.7,883.4 1746.2,882.8 1749.4,880.6 C1752.6,878.5 1755.6,875.6 1758.7,871.2 C1761.8,866.8 1765.0,860.6 1768.1,854.4 C1771.2,848.1 1774.4,840.3 1777.5,833.7 C1780.6,827.1 1784.1,819.8 1786.9,815.0 C1789.7,810.2 1791.6,807.4 1794.4,804.7 C1797.2,802.1 1800.6,801.0 1803.7,799.1 C1806.8,797.2 1810.0,795.6 1813.1,793.4 C1816.2,791.2 1819.4,787.9 1822.5,785.9 C1825.6,783.9 1829.1,781.5 1831.9,781.2 C1834.7,780.9 1836.8,781.9 1839.4,784.1 C1842.1,786.3 1844.8,790.2 1847.8,794.4 C1850.8,798.6 1854.1,804.6 1857.2,809.4 C1860.3,814.2 1863.5,819.3 1866.6,823.4 C1869.7,827.5 1872.8,829.8 1875.9,833.7 C1879.0,837.6 1882.2,842.2 1885.3,846.9 C1888.4,851.6 1891.6,857.1 1894.7,861.9 C1897.8,866.7 1901.0,872.3 1904.1,875.9 C1907.2,879.5 1910.3,882.3 1913.4,883.4 C1916.5,884.5 1919.7,883.0 1922.8,882.5 C1925.9,882.0 1928.3,880.8 1932.2,880.2 C1936.1,879.7 1942.3,879.1 1946.2,879.2 C1950.1,879.3 1952.1,879.4 1955.6,880.6 C1959.0,881.8 1961.7,884.6 1966.9,886.2 C1972.1,887.8 1981.2,890.2 1986.9,890.3 C1992.6,890.4 1996.5,887.5 2000.9,886.6 C2005.3,885.7 2009.6,884.6 2013.1,884.7 C2016.5,884.9 2018.2,886.1 2021.6,887.5 C2025.0,888.9 2029.0,892.2 2033.7,893.1 C2038.4,894.0 2044.7,893.3 2049.7,892.7 C2054.7,892.1 2058.2,890.4 2063.7,889.4 C2069.2,888.4 2076.2,887.2 2082.5,887.0 C2088.8,886.8 2094.9,888.5 2101.2,888.4 C2107.4,888.2 2113.8,886.7 2120.0,886.1 C2126.2,885.5 2133.2,884.9 2138.7,884.7 C2144.2,884.5 2148.9,885.2 2152.8,884.7 C2156.7,884.2 2159.1,883.8 2162.2,881.9 C2165.3,880.0 2168.6,876.1 2171.6,873.4 C2174.6,870.7 2177.0,870.7 2180.0,865.7 C2183.0,860.7 2186.6,850.7 2189.8,843.2 C2193.1,835.7 2196.6,826.8 2199.5,820.8 C2202.4,814.8 2204.4,810.5 2207.3,807.1 C2210.2,803.7 2213.8,802.6 2217.1,800.3 C2220.4,798.0 2223.7,795.7 2226.9,793.4 C2230.2,791.1 2233.2,788.6 2236.6,786.6 C2240.0,784.6 2244.1,781.5 2247.4,781.2 C2250.7,780.9 2253.4,782.4 2256.2,784.6 C2259.0,786.8 2261.1,790.2 2264.0,794.4 C2266.9,798.6 2270.6,805.3 2273.8,810.0 C2277.1,814.7 2279.9,818.5 2283.5,822.7 C2287.1,826.9 2291.6,830.8 2295.2,835.4 C2298.8,840.0 2301.4,844.6 2305.0,850.1 C2308.6,855.6 2313.1,863.4 2316.7,868.6 C2320.3,873.8 2323.6,878.7 2326.5,881.3 C2329.4,883.9 2331.1,884.2 2334.3,884.3 C2337.6,884.4 2341.6,882.3 2346.0,881.8 C2350.4,881.3 2356.6,881.0 2360.7,881.3 C2364.8,881.5 2366.7,882.1 2370.4,883.3 C2374.1,884.4 2377.7,886.9 2383.1,888.2 C2388.5,889.5 2396.9,891.1 2402.6,891.1 C2408.3,891.1 2413.1,889.1 2417.3,888.2 C2421.5,887.3 2426.2,886.1 2428.0,885.7" fill="none" stroke="#e5033b" stroke-width="7.8" stroke-linejoin="round" stroke-linecap="round"/>
<rect x="163.0" y="1006" width="2267.0" height="3.6" fill="#000"/>
<rect x="163" y="167" width="4.1" height="889.5" fill="#000"/>
<rect x="2426" y="167.5" width="4.1" height="889" fill="#000"/>
<text transform="translate(213.6,795.9) rotate(-90) scale(0.6942,1)" font-size="37.2" font-weight="normal" fill="#3d3d3d">223 - Monchiero</text>
<text transform="translate(292.0,763.3) rotate(-90) scale(0.6760,1)" font-size="37.2" font-weight="normal" fill="#3d3d3d">331 - Lequio Tanaro</text>
<text transform="translate(357.7,766.5) rotate(-90) scale(0.6739,1)" font-size="37.2" font-weight="normal" fill="#3d3d3d">318 - Bene Vagienna</text>
<text transform="translate(443.7,764.4) rotate(-90) scale(0.6676,1)" font-size="37.2" font-weight="normal" fill="#3d3d3d">323 - Narzole</text>
<text transform="translate(529.7,774.9) rotate(-90) scale(0.6720,1)" font-size="37.2" font-weight="normal" fill="#3d3d3d">292 - Cherasco</text>
<text transform="translate(629.5,793.8) rotate(-90) scale(0.6812,1)" font-size="37.2" font-weight="normal" fill="#3d3d3d">231 - Bv. per Barolo</text>
<text transform="translate(709.2,765.1) rotate(-90) scale(0.6743,1)" font-size="37.2" font-weight="normal" fill="#3d3d3d">321 - Barolo</text>
<text transform="translate(785.0,739.0) rotate(-90) scale(0.6872,1)" font-size="37.2" font-weight="normal" fill="#3d3d3d">404 - La Morra</text>
<text transform="translate(860.9,803.1) rotate(-90) scale(0.6656,1)" font-size="37.2" font-weight="normal" fill="#3d3d3d">194 - Gallo d'Alba</text>
<text transform="translate(926.6,724.7) rotate(-90) scale(0.6783,1)" font-size="37.2" font-weight="normal" fill="#3d3d3d">450 - Diano d'Alba</text>
<text transform="translate(1010.1,810.3) rotate(-90) scale(0.6807,1)" font-size="37.2" font-weight="normal" fill="#3d3d3d">172 - Alba</text>
<text transform="translate(1108.7,765.1) rotate(-90) scale(0.6788,1)" font-size="37.2" font-weight="normal" fill="#3d3d3d">324 - Tre Stelle</text>
<text transform="translate(1164.0,724.3) rotate(-90) scale(0.6868,1)" font-size="37.2" font-weight="normal" fill="#3d3d3d">448 - Neviglio</text>
<text transform="translate(1195.1,705.0) rotate(-90) scale(0.6701,1)" font-size="37.2" font-weight="bold" fill="#161616">509 - BRIC DELLA FORMA</text>
<text transform="translate(1230.1,705.0) rotate(-90) scale(0.6785,1)" font-size="37.2" font-weight="normal" fill="#3d3d3d">503 - Mango</text>
<text transform="translate(1270.5,742.0) rotate(-90) scale(0.6753,1)" font-size="37.2" font-weight="normal" fill="#3d3d3d">390 - Romanino</text>
<text transform="translate(1376.7,806.3) rotate(-90) scale(0.6710,1)" font-size="37.2" font-weight="normal" fill="#3d3d3d">176 - Santo Stefano Belbo</text>
<text transform="translate(1438.7,812.8) rotate(-90) scale(0.6478,1)" font-size="37.2" font-weight="normal" fill="#3d3d3d">154 - Canelli</text>
<text transform="translate(1486.7,812.8) rotate(-90) scale(0.6688,1)" font-size="37.2" font-weight="normal" fill="#3d3d3d">153 - Bv. per Rocchetta Palafea</text>
<text transform="translate(1539.8,740.4) rotate(-90) scale(0.6654,1)" font-size="37.2" font-weight="bold" fill="#161616">398 - ROCCHETTA PALAFEA</text>
<text transform="translate(1592.9,783.8) rotate(-90) scale(0.6785,1)" font-size="37.2" font-weight="normal" fill="#3d3d3d">260 - Castel Boglione</text>
<text transform="translate(1691.5,813.3) rotate(-90) scale(0.6526,1)" font-size="37.2" font-weight="normal" fill="#3d3d3d">163 - Terzo</text>
<text transform="translate(1749.7,810.0) rotate(-90) scale(0.6789,1)" font-size="37.2" font-weight="normal" fill="#3d3d3d">170 - Bistagno</text>
<text transform="translate(1844.5,704.2) rotate(-90) scale(0.6476,1)" font-size="37.2" font-weight="bold" fill="#161616">512 - CASTELLETTO D'ERRO</text>
<text transform="translate(1934.2,806.6) rotate(-90) scale(0.6541,1)" font-size="37.2" font-weight="normal" fill="#3d3d3d">182 - Melazzo</text>
<text transform="translate(2024.0,810.0) rotate(-90) scale(0.6511,1)" font-size="37.2" font-weight="normal" fill="#3d3d3d">173 - ACQUI TERME</text>
<text transform="translate(2165.6,810.0) rotate(-90) scale(0.6789,1)" font-size="37.2" font-weight="normal" fill="#3d3d3d">170 - Bistagno</text>
<text transform="translate(2260.4,704.2) rotate(-90) scale(0.6476,1)" font-size="37.2" font-weight="bold" fill="#161616">512 - CASTELLETTO D'ERRO</text>
<text transform="translate(2350.2,806.6) rotate(-90) scale(0.6541,1)" font-size="37.2" font-weight="normal" fill="#3d3d3d">182 - Melazzo</text>
<text transform="translate(178.3,1110.0) rotate(-90) scale(0.7,1)" font-size="37.2" font-weight="bold" fill="#161616">0.0</text>
<text transform="translate(213.7,1110.0) rotate(-90) scale(0.7,1)" font-size="37.2" font-weight="normal" fill="#3d3d3d">2.8</text>
<text transform="translate(292.1,1110.0) rotate(-90) scale(0.7,1)" font-size="37.2" font-weight="normal" fill="#3d3d3d">9.0</text>
<text transform="translate(357.8,1124.6) rotate(-90) scale(0.7,1)" font-size="37.2" font-weight="normal" fill="#3d3d3d">14.2</text>
<text transform="translate(443.8,1124.6) rotate(-90) scale(0.7,1)" font-size="37.2" font-weight="normal" fill="#3d3d3d">21.0</text>
<text transform="translate(529.8,1124.6) rotate(-90) scale(0.7,1)" font-size="37.2" font-weight="normal" fill="#3d3d3d">27.8</text>
<text transform="translate(629.6,1124.6) rotate(-90) scale(0.7,1)" font-size="37.2" font-weight="normal" fill="#3d3d3d">35.7</text>
<text transform="translate(709.3,1124.6) rotate(-90) scale(0.7,1)" font-size="37.2" font-weight="normal" fill="#3d3d3d">42.0</text>
<text transform="translate(785.1,1124.6) rotate(-90) scale(0.7,1)" font-size="37.2" font-weight="normal" fill="#3d3d3d">48.0</text>
<text transform="translate(861.0,1124.6) rotate(-90) scale(0.7,1)" font-size="37.2" font-weight="normal" fill="#3d3d3d">54.0</text>
<text transform="translate(926.7,1124.6) rotate(-90) scale(0.7,1)" font-size="37.2" font-weight="normal" fill="#3d3d3d">59.2</text>
<text transform="translate(1010.2,1124.6) rotate(-90) scale(0.7,1)" font-size="37.2" font-weight="normal" fill="#3d3d3d">65.8</text>
<text transform="translate(1108.8,1124.6) rotate(-90) scale(0.7,1)" font-size="37.2" font-weight="normal" fill="#3d3d3d">73.6</text>
<text transform="translate(1164.1,1124.6) rotate(-90) scale(0.7,1)" font-size="37.2" font-weight="normal" fill="#3d3d3d">79.2</text>
<text transform="translate(1195.2,1124.6) rotate(-90) scale(0.7,1)" font-size="37.2" font-weight="bold" fill="#161616">80.2</text>
<text transform="translate(1230.2,1124.6) rotate(-90) scale(0.7,1)" font-size="37.2" font-weight="normal" fill="#3d3d3d">83.2</text>
<text transform="translate(1270.6,1124.6) rotate(-90) scale(0.7,1)" font-size="37.2" font-weight="normal" fill="#3d3d3d">86.4</text>
<text transform="translate(1376.8,1124.6) rotate(-90) scale(0.7,1)" font-size="37.2" font-weight="normal" fill="#3d3d3d">94.8</text>
<text transform="translate(1438.8,1124.6) rotate(-90) scale(0.7,1)" font-size="37.2" font-weight="normal" fill="#3d3d3d">99.7</text>
<text transform="translate(1486.8,1138.9) rotate(-90) scale(0.7,1)" font-size="37.2" font-weight="normal" fill="#3d3d3d">103.5</text>
<text transform="translate(1539.9,1138.9) rotate(-90) scale(0.7,1)" font-size="37.2" font-weight="bold" fill="#161616">107.7</text>
<text transform="translate(1593.0,1135.0) rotate(-90) scale(0.7,1)" font-size="37.2" font-weight="normal" fill="#3d3d3d">111.9</text>
<text transform="translate(1691.6,1137.1) rotate(-90) scale(0.7,1)" font-size="37.2" font-weight="normal" fill="#3d3d3d">119.7</text>
<text transform="translate(1749.8,1138.9) rotate(-90) scale(0.7,1)" font-size="37.2" font-weight="normal" fill="#3d3d3d">124.3</text>
<text transform="translate(1844.6,1138.9) rotate(-90) scale(0.7,1)" font-size="37.2" font-weight="bold" fill="#161616">131.8</text>
<text transform="translate(1934.3,1138.9) rotate(-90) scale(0.7,1)" font-size="37.2" font-weight="normal" fill="#3d3d3d">138.9</text>
<text transform="translate(2024.1,1138.9) rotate(-90) scale(0.7,1)" font-size="37.2" font-weight="normal" fill="#3d3d3d">146.0</text>
<text transform="translate(2165.7,1138.9) rotate(-90) scale(0.7,1)" font-size="37.2" font-weight="normal" fill="#3d3d3d">157.2</text>
<text transform="translate(2260.5,1138.9) rotate(-90) scale(0.7,1)" font-size="37.2" font-weight="bold" fill="#161616">164.7</text>
<text transform="translate(2350.3,1138.9) rotate(-90) scale(0.7,1)" font-size="37.2" font-weight="normal" fill="#3d3d3d">171.8</text>
<text transform="translate(2441.3,1138.9) rotate(-90) scale(0.7,1)" font-size="37.2" font-weight="bold" fill="#161616">179.0</text>
<text x="0" y="0" transform="translate(158.0,1034.5) scale(0.80,1)" font-size="24.6" text-anchor="middle" fill="#111">0</text>
<text x="0" y="0" transform="translate(293.9,1034.5) scale(0.80,1)" font-size="24.6" text-anchor="middle" fill="#111">10</text>
<text x="0" y="0" transform="translate(420.3,1034.5) scale(0.80,1)" font-size="24.6" text-anchor="middle" fill="#111">20</text>
<text x="0" y="0" transform="translate(546.8,1034.5) scale(0.80,1)" font-size="24.6" text-anchor="middle" fill="#111">30</text>
<text x="0" y="0" transform="translate(673.2,1034.5) scale(0.80,1)" font-size="24.6" text-anchor="middle" fill="#111">40</text>
<text x="0" y="0" transform="translate(799.6,1034.5) scale(0.80,1)" font-size="24.6" text-anchor="middle" fill="#111">50</text>
<text x="0" y="0" transform="translate(926.0,1034.5) scale(0.80,1)" font-size="24.6" text-anchor="middle" fill="#111">60</text>
<text x="0" y="0" transform="translate(1052.5,1034.5) scale(0.80,1)" font-size="24.6" text-anchor="middle" fill="#111">70</text>
<text x="0" y="0" transform="translate(1178.9,1034.5) scale(0.80,1)" font-size="24.6" text-anchor="middle" fill="#111">80</text>
<text x="0" y="0" transform="translate(1305.3,1034.5) scale(0.80,1)" font-size="24.6" text-anchor="middle" fill="#111">90</text>
<text x="0" y="0" transform="translate(1431.7,1034.5) scale(0.80,1)" font-size="24.6" text-anchor="middle" fill="#111">100</text>
<text x="0" y="0" transform="translate(1558.2,1034.5) scale(0.80,1)" font-size="24.6" text-anchor="middle" fill="#111">110</text>
<text x="0" y="0" transform="translate(1684.6,1034.5) scale(0.80,1)" font-size="24.6" text-anchor="middle" fill="#111">120</text>
<text x="0" y="0" transform="translate(1811.0,1034.5) scale(0.80,1)" font-size="24.6" text-anchor="middle" fill="#111">130</text>
<text x="0" y="0" transform="translate(1937.4,1034.5) scale(0.80,1)" font-size="24.6" text-anchor="middle" fill="#111">140</text>
<text x="0" y="0" transform="translate(2063.9,1034.5) scale(0.80,1)" font-size="24.6" text-anchor="middle" fill="#111">150</text>
<text x="0" y="0" transform="translate(2190.3,1034.5) scale(0.80,1)" font-size="24.6" text-anchor="middle" fill="#111">160</text>
<text x="0" y="0" transform="translate(2316.7,1034.5) scale(0.80,1)" font-size="24.6" text-anchor="middle" fill="#111">170</text>
<text transform="translate(2246.6,947.4) scale(0.86,1)" font-size="22" text-anchor="middle" fill="#6a6a66">0</text>
<text transform="translate(2246.6,915.7) scale(0.86,1)" font-size="22" text-anchor="middle" fill="#6a6a66">100</text>
<text transform="translate(2246.6,884.0) scale(0.86,1)" font-size="22" text-anchor="middle" fill="#6a6a66">200</text>
<text transform="translate(2246.6,852.3) scale(0.86,1)" font-size="22" text-anchor="middle" fill="#6a6a66">300</text>
<text transform="translate(2246.6,820.6) scale(0.86,1)" font-size="22" text-anchor="middle" fill="#6a6a66">400</text>
<g fill="#abacaf">
<rect x="163.2" y="1203.2" width="2268.0" height="3.6"/>
<rect x="163.2" y="1176" width="3.6" height="30"/>
<rect x="1397.6" y="1176" width="3.6" height="30"/>
<rect x="1628.4" y="1176" width="3.6" height="30"/>
<rect x="2427.0" y="1176" width="3.6" height="30"/>
</g>
<text transform="translate(750.4,1193.6) scale(0.66,1)" font-size="38.5" text-anchor="middle" fill="#a4a5a8">CN</text>
<text transform="translate(1516,1193.6) scale(0.66,1)" font-size="38.5" text-anchor="middle" fill="#a4a5a8">AT</text>
<text transform="translate(2062.5,1193.6) scale(0.66,1)" font-size="38.5" text-anchor="middle" fill="#a4a5a8">AL</text>
<g fill="none" stroke="#1a1a1a" stroke-width="4.5" stroke-linecap="round" stroke-linejoin="round">
<path d="M2450,923.5 C2447,927 2446.5,934 2446.8,938.9 C2447,942 2448.5,944 2450.3,943.8 C2452,943.5 2453,941.5 2453.8,939 L2456.3,932.6 C2457.3,929 2458,925 2459.5,923.5 C2461,922.5 2462.8,924.5 2463.6,928 C2464.6,932.5 2464.6,938 2463.6,942.5 C2462.8,945.5 2461,947.5 2458.8,948.6"/>
<path d="M2455.6,950.6 C2453,952.5 2450.5,956 2448.5,960.5 C2447,963.5 2446,966 2447,967.3 C2448,968.2 2452,967.8 2455.5,967.6 C2459,967.5 2462.5,968 2463.6,966.8 C2464.6,965.3 2463.8,961.5 2462.5,958 C2461.2,954.5 2459.5,951.5 2457.6,950.6 C2456.8,950.3 2456.2,950.3 2455.6,950.6 Z"/>
<path d="M2449,975.6 C2447,978.5 2446.6,984 2447,988.5 C2447.4,992 2449,994.8 2451.2,994.8 C2453,994.6 2454,992 2454.6,989.5 L2456.2,981.5 C2456.8,978 2457.5,975.2 2459.2,975 C2461,975 2462.8,978 2463.4,981.5 C2464,985.5 2463.8,990 2462.2,993.5 C2461.3,995.5 2460.3,996.8 2459.4,997.5"/>
</g>
<g><circle cx="1012.9" cy="1001.9" r="14.6" fill="#fbf9fb" stroke="#111" stroke-width="2"/>
<g stroke="#111" stroke-width="1.8"><line x1="1009.1" y1="988" x2="1009.1" y2="1016"/><line x1="1017.1" y1="988" x2="1017.1" y2="1016"/>
<line x1="1005.1" y1="993" x2="1020.7" y2="993"/>
<line x1="1005.1" y1="998.9" x2="1020.7" y2="998.9"/>
<line x1="1005.1" y1="1004.8" x2="1020.7" y2="1004.8"/>
<line x1="1005.1" y1="1010.7" x2="1020.7" y2="1010.7"/>
</g></g>
<g><circle cx="2039.6" cy="999.8" r="14.6" fill="#fff" stroke="#111" stroke-width="2"/>
<path d="M2029.5,1008.6 L2029.5,997.5 A10,9.5 0 0 1 2049.5,997.5 L2049.5,1008.6 Z" fill="#55545a"/>
<path d="M2033.6,1008.6 L2033.6,999 A6,5.5 0 0 1 2045.4,999 L2045.4,1008.6 Z" fill="#fff"/>
<path d="M2035.2,1008.6 L2035.2,999.5 A4.3,4.4 0 0 1 2043.8,999.5 L2043.8,1008.6 Z" fill="#151418"/>
</g>
<path d="M86.7,459.0 L139.4,459.0 A11,11 0 0 1 150.4,470.0 L150.4,843.6 A37.4,37.4 0 0 1 75.7,843.6 L75.7,470.0 A11,11 0 0 1 86.7,459.0 Z" fill="#0f9a3a"/>
<path d="M87.1,466.4 L139.0,466.4 A4,4 0 0 1 143.0,470.4 L143.0,843.6 A29.9,29.9 0 0 1 83.1,843.6 L83.1,470.4 A4,4 0 0 1 87.1,466.4 Z" fill="url(#gbadge)"/>
<text transform="translate(127.3,800.8) rotate(-90) scale(0.9058,1)" font-size="46.5" font-weight="bold" fill="#1b1b1e">260 - DOGLIANI</text>
<circle cx="113.1" cy="843.7" r="31" fill="#151515"/>
<circle cx="113.1" cy="843.7" r="26.8" fill="url(#gcirc)"/>
<g transform="translate(113.1,843.7)" fill="#fafffa" stroke="#fafffa">
<circle cx="-15.4" cy="9" r="7.6" fill="none" stroke-width="3.2"/><circle cx="14.1" cy="9" r="7.6" fill="none" stroke-width="3.2"/>
<circle cx="8.3" cy="-16.2" r="3.9" stroke="none"/>
<path d="M-13,-10 C-12.5,-15 -6,-18.6 1,-18.6 C4,-18.6 6.5,-17 5,-13.5 C3,-10 -1,-7 -3,-4.5 C-5,-2.5 -8,-2.5 -10,-3.5 C-12.5,-5 -13.3,-7.5 -13,-10 Z" stroke="none"/>
<path d="M3.5,-12.5 L10.5,-7.5 L12.8,-1" fill="none" stroke-width="3" stroke-linecap="round" stroke-linejoin="round"/>
<path d="M-8,-4.5 L1.5,0.5 L-2.5,9.5" fill="none" stroke-width="3.8" stroke-linecap="round" stroke-linejoin="round"/>
<path d="M-9,-4 L-4.5,4 L-8.5,8.5" fill="none" stroke-width="3.2" stroke-linecap="round" stroke-linejoin="round"/>
<path d="M-15.4,9 L-5,2.5 L11,1 L14.1,9 M-2.5,9.5 L-5,2.5" fill="none" stroke-width="2" stroke-linecap="round"/>
</g>
<path d="M2460.0,360.0 L2513.0,360.0 A11,11 0 0 1 2524.0,371.0 L2524.0,838.9 A37.5,37.5 0 0 1 2449.0,838.9 L2449.0,371.0 A11,11 0 0 1 2460.0,360.0 Z" fill="#e30613"/>
<path d="M2460.4,367.4 L2512.6,367.4 A4,4 0 0 1 2516.6,371.4 L2516.6,838.9 A30.1,30.1 0 0 1 2456.4,838.9 L2456.4,371.4 A4,4 0 0 1 2460.4,367.4 Z" fill="url(#rbadge)"/>
<text transform="translate(2500.7,786.6) rotate(-90) scale(0.8891,1)" font-size="46.5" font-weight="bold" fill="#1b1b1e">173 - ACQUI TERME</text>
<circle cx="2485.8" cy="837.7" r="30" fill="#151515"/>
<circle cx="2485.8" cy="837.7" r="25.8" fill="url(#rcirc)"/>
<g transform="translate(2485.8,837.7)" fill="#fafffa" stroke="#fafffa">
<circle cx="-13.2" cy="10.9" r="7.5" fill="none" stroke-width="3.1"/><circle cx="14.1" cy="10.5" r="7.5" fill="none" stroke-width="3.1"/>
<circle cx="-3.5" cy="-24.5" r="3.6" stroke="none"/>
<path d="M-9.5,-19 C-10,-12 -10.5,-6 -8.5,-1 L-1.5,-0.5 C-1,-6 -1.5,-13 -2.5,-19.5 C-4.5,-21 -7.5,-21 -9.5,-19 Z" stroke="none"/>
<path d="M-7.5,-19 L-9.5,-27 M-2.5,-19 L1.5,-27.5" fill="none" stroke-width="2.8" stroke-linecap="round"/>
<path d="M-6,-2 L3,-4 L9,-5 L12,6" fill="none" stroke-width="3.4" stroke-linecap="round" stroke-linejoin="round"/>
<path d="M-6,-2 L1,4 L-1.5,10" fill="none" stroke-width="3.6" stroke-linecap="round" stroke-linejoin="round"/>
<path d="M-13.2,10.9 L-3,4 L10,2 L14.1,10.5" fill="none" stroke-width="2" stroke-linecap="round"/>
</g>
</svg></body></html>
